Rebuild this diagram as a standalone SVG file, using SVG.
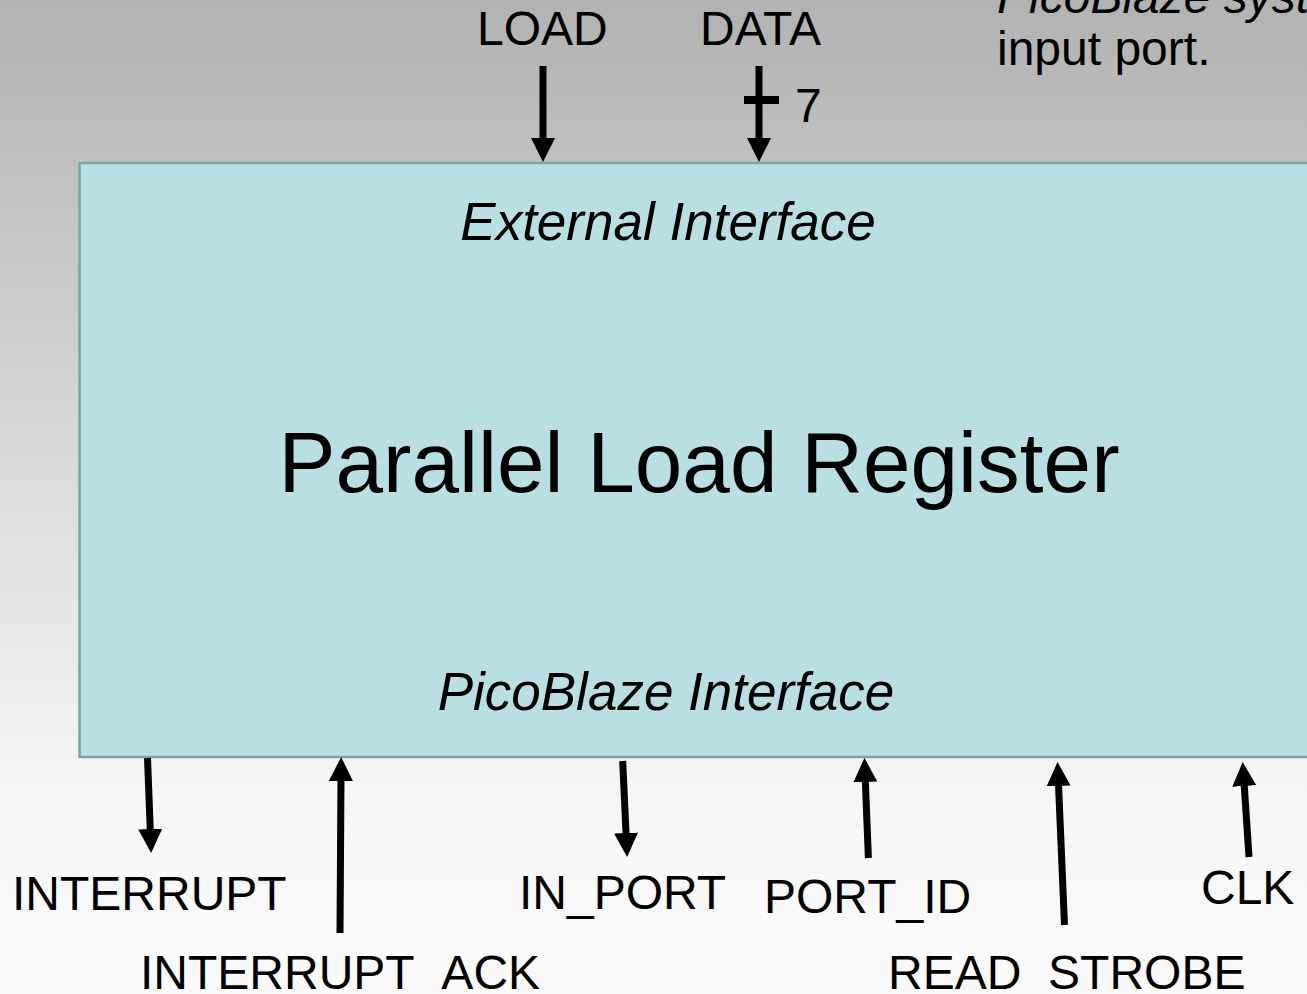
<svg xmlns="http://www.w3.org/2000/svg" width="1307" height="994" viewBox="0 0 1307 994">
  <defs>
    <linearGradient id="bg" x1="0" y1="0" x2="0" y2="994" gradientUnits="userSpaceOnUse">
      <stop offset="0" stop-color="#b2b2b2"/>
      <stop offset="0.8" stop-color="#f6f6f6"/>
      <stop offset="1" stop-color="#fafafa"/>
    </linearGradient>
    <marker id="head" markerUnits="userSpaceOnUse" markerWidth="24" markerHeight="24" viewBox="0 0 24 24" refX="4" refY="12" orient="auto">
      <path d="M0,0 L24,12 L0,24 Z" fill="#000"/>
    </marker>
    <style>
      .lbl { font-family: "Liberation Sans", Arial, sans-serif; font-size: 48px; fill: #000; }
      .ital { font-family: "Liberation Sans", Arial, sans-serif; font-style: italic; font-size: 53px; fill: #000; }
      .sig { stroke: #000; stroke-width: 7; fill: none; marker-end: url(#head); }
    </style>
  </defs>

  <rect x="0" y="0" width="1307" height="994" fill="url(#bg)"/>

  <!-- note at upper right -->
  <g id="note">
    <text class="lbl" x="997" y="13" font-style="italic">PicoBlaze syst</text>
    <text class="lbl" x="997" y="65">input port.</text>
  </g>

  <!-- register block -->
  <g id="register">
    <rect x="79.5" y="163" width="1300" height="594" fill="#b9dfe2" stroke="#80a2a4" stroke-width="2.5"/>
    <text class="ital" x="668" y="240" text-anchor="middle">External Interface</text>
    <text x="699" y="492" text-anchor="middle" font-family="Liberation Sans, Arial, sans-serif" font-size="85.5" fill="#000">Parallel Load Register</text>
    <text class="ital" x="666" y="710" text-anchor="middle">PicoBlaze Interface</text>
  </g>

  <!-- signal names -->
  <g id="labels">
    <text class="lbl" x="477" y="45" font-size="47">LOAD</text>
    <text class="lbl" x="700" y="45" font-size="47">DATA</text>
    <text class="lbl" x="795" y="122" font-size="47">7</text>
    <text class="lbl" x="12" y="910">INTERRUPT</text>
    <text class="lbl" x="140" y="989">INTERRUPT_ACK</text>
    <text class="lbl" x="519" y="909">IN_PORT</text>
    <text class="lbl" x="764" y="913">PORT_ID</text>
    <text class="lbl" x="888" y="989">READ_STROBE</text>
    <text class="lbl" x="1201" y="904">CLK</text>
  </g>

  <!-- connectors -->
  <g id="connectors">
    <line class="sig" x1="543" y1="66" x2="543" y2="142"/>
    <line class="sig" x1="759" y1="66" x2="759" y2="142"/>
    <line x1="744" y1="100" x2="779" y2="100" stroke="#000" stroke-width="8"/>
    <line class="sig" x1="147.5" y1="758" x2="150.4" y2="833"/>
    <line class="sig" x1="340" y1="933" x2="341" y2="777"/>
    <line class="sig" x1="622.7" y1="761" x2="626.2" y2="837"/>
    <line class="sig" x1="868.4" y1="858" x2="865.2" y2="778"/>
    <line class="sig" x1="1064.5" y1="925" x2="1058.4" y2="782"/>
    <line class="sig" x1="1249" y1="857" x2="1244" y2="782"/>
  </g>
</svg>
